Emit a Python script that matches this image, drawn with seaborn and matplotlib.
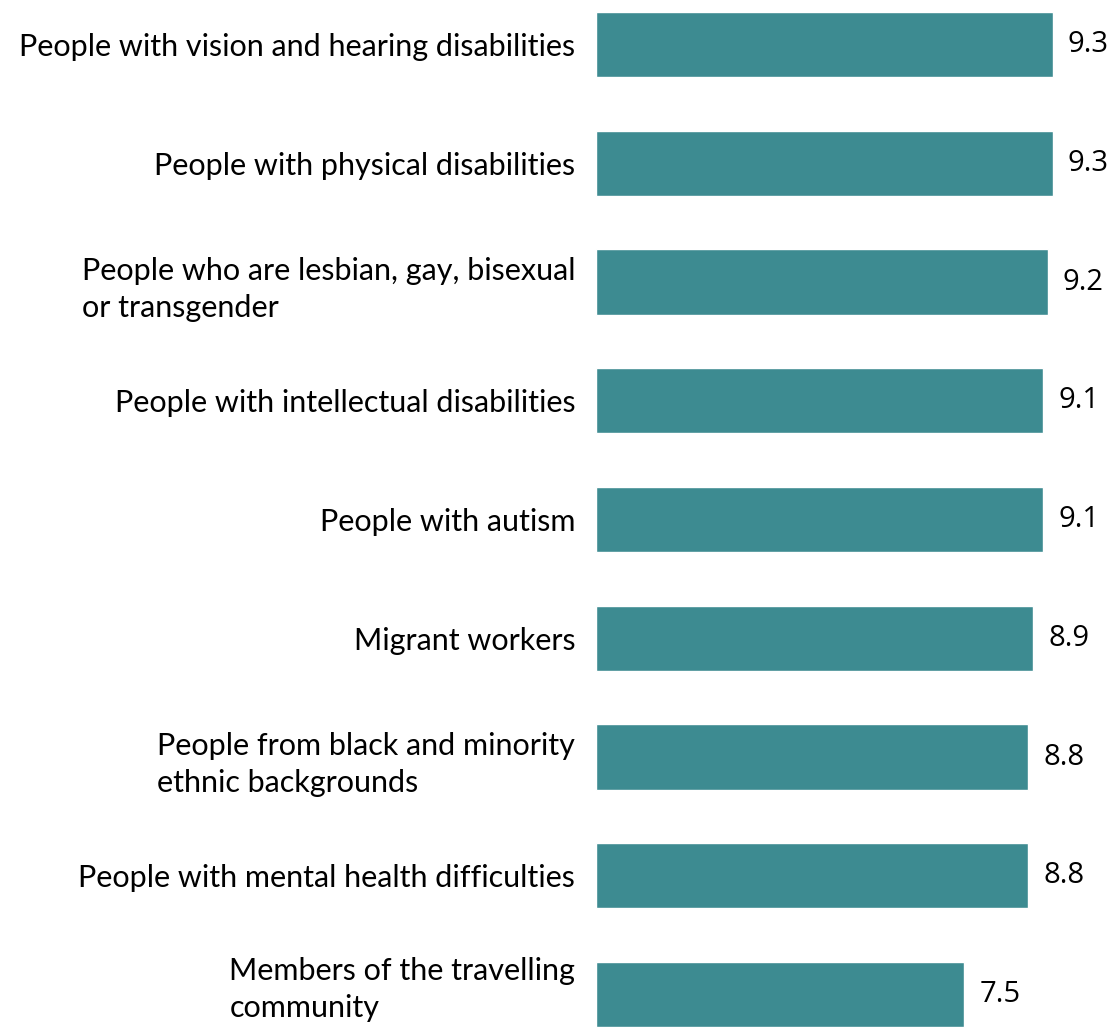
import matplotlib
matplotlib.use("Agg")
import matplotlib.pyplot as plt
import matplotlib.transforms as mtransforms
import seaborn as sns
import pandas as pd

groups = [
    "People with vision and hearing disabilities",
    "People with physical disabilities",
    "People who are lesbian, gay, bisexual\nor transgender",
    "People with intellectual disabilities",
    "People with autism",
    "Migrant workers",
    "People from black and minority\nethnic backgrounds",
    "People with mental health difficulties",
    "Members of the travelling\ncommunity",
]
scores = [9.3, 9.3, 9.2, 9.1, 9.1, 8.9, 8.8, 8.8, 7.5]

df = pd.DataFrame({"group": groups, "score": scores})

sns.set_theme(style="white")
plt.rcParams["font.family"] = ["Lato", "DejaVu Sans"]

fig = plt.figure(figsize=(11.13, 10.29), dpi=100)
ax = fig.add_axes([0.5355, 0.0, 0.4645, 1.0])

sns.barplot(data=df, x="score", y="group", orient="h", color="#3d8b91",
            saturation=1, width=0.55, ax=ax)

ax.set_xlim(0, 10.53)
ax.set_ylim(8.29, -0.375)
ax.set_xlabel("")
ax.set_ylabel("")
ax.set_xticks([])
sns.despine(ax=ax, left=True, bottom=True)

ax.tick_params(axis="y", length=0, pad=15)
labels = ax.get_yticklabels()
for lbl in labels:
    lbl.set_fontsize(22)
    lbl.set_color("black")
    lbl.set_multialignment("left")
    lbl.set_linespacing(1.4)

# keep the lowest two-line label inside the figure
lift = mtransforms.ScaledTranslation(0, 9 / 72, fig.dpi_scale_trans)
labels[-1].set_transform(labels[-1].get_transform() + lift)

for cont in ax.containers:
    ax.bar_label(cont, fmt="%.1f", padding=11, fontsize=21,
                 family=["Open Sans", "DejaVu Sans"], color="black")

fig.savefig("out.png", dpi=100)
